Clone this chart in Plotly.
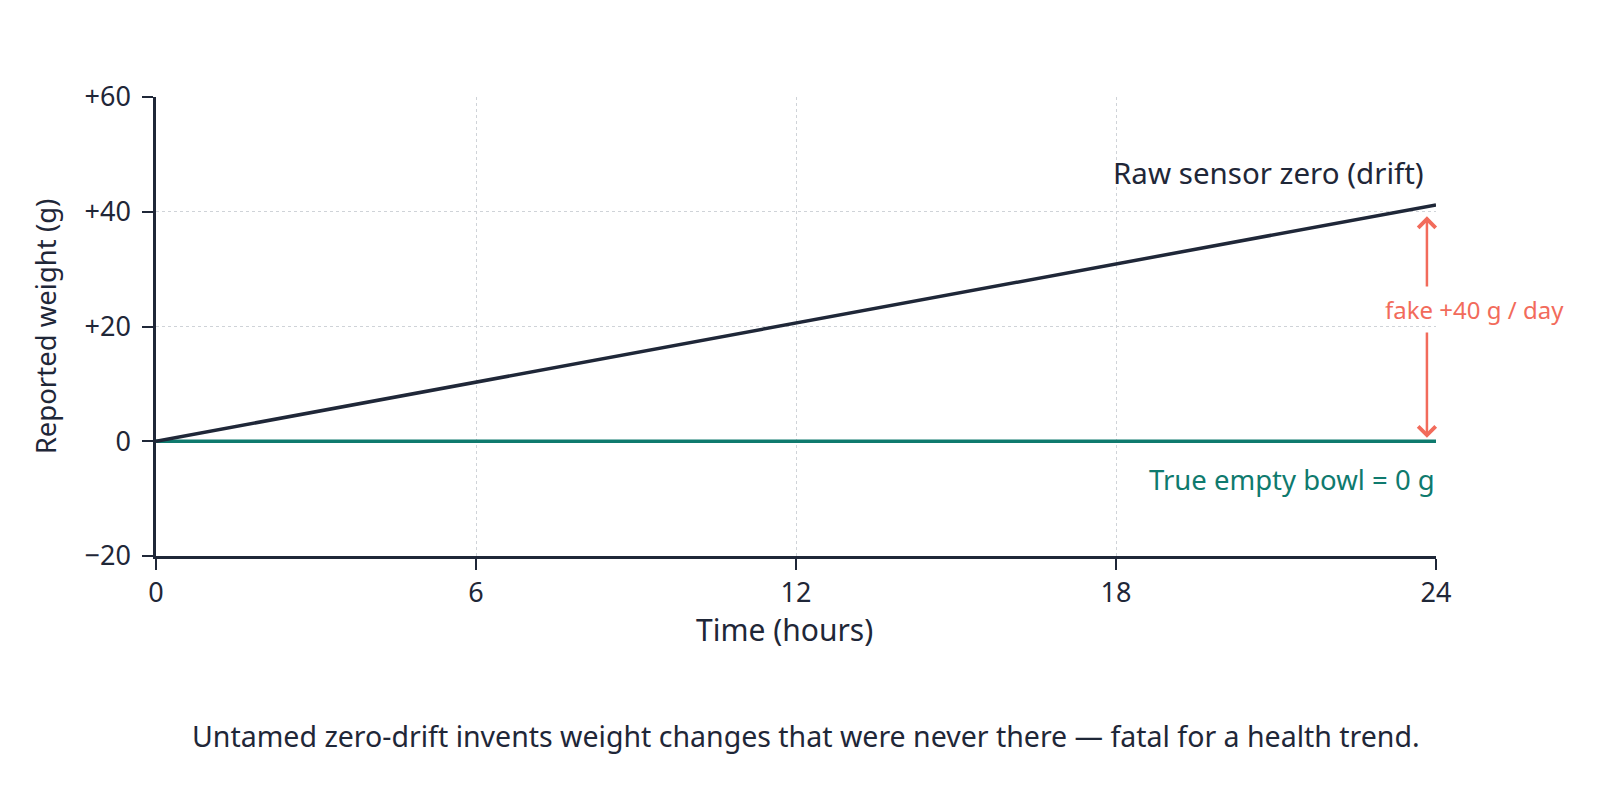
import plotly.graph_objects as go

# hours over one day
hours = [0, 24]
drift_g = [0, 41.2]      # raw sensor zero, creeping up
true_g = [0, 0]          # empty bowl, always zero

x_ticks = [0, 6, 12, 18, 24]
y_ticks = [-20, 0, 20, 40, 60]
y_tick_text = ["\u221220", "0", "+20", "+40", "+60"]

INK = "#1f2738"
TEAL = "#0f7a6e"
CORAL = "#f26b5b"
GRID = "#cfd3d8"
FONT = "Noto Sans"

ARROW_X = 23.83

fig = go.Figure()

fig.add_trace(go.Scatter(x=hours, y=true_g, mode="lines",
                         line=dict(color=TEAL, width=3.5),
                         name="True empty bowl", hoverinfo="skip"))
fig.add_trace(go.Scatter(x=hours, y=drift_g, mode="lines",
                         line=dict(color=INK, width=3.5),
                         name="Raw sensor zero", hoverinfo="skip"))

# labels next to the lines
fig.add_annotation(x=24, y=46.8, text="Raw sensor zero (drift)", showarrow=False,
                   xanchor="right", xshift=-10, font=dict(size=29.5, color=INK, family=FONT))
fig.add_annotation(x=24, y=-6.7, text="True empty bowl = 0 g", showarrow=False,
                   xanchor="right", xshift=1, font=dict(size=27.5, color=TEAL, family=FONT))

# the fake gain arrow, broken around its label
fig.add_annotation(x=ARROW_X, y=39.2, ax=ARROW_X, ay=26.7, xref="x", yref="y",
                   axref="x", ayref="y", text="", showarrow=True,
                   arrowhead=4, arrowsize=1.35, arrowwidth=2.5, arrowcolor=CORAL)
fig.add_annotation(x=ARROW_X, y=0.6, ax=ARROW_X, ay=19.2, xref="x", yref="y",
                   axref="x", ayref="y", text="", showarrow=True,
                   arrowhead=4, arrowsize=1.35, arrowwidth=2.5, arrowcolor=CORAL)
fig.add_annotation(x=ARROW_X, y=22.9, text="fake +40 g / day", showarrow=False,
                   xanchor="center", xshift=48, font=dict(size=24, color=CORAL, family=FONT))

# x title, sits a little left of the axis centre
fig.add_annotation(x=0.491, y=-0.161, xref="paper", yref="paper", yanchor="middle",
                   text="Time (hours)", showarrow=False,
                   font=dict(size=30, color=INK, family=FONT))

# caption
fig.add_annotation(x=0.5076, y=-0.393, xref="paper", yref="paper", yanchor="middle",
                   text="Untamed zero-drift invents weight changes that were never there \u2014 fatal for a health trend.",
                   showarrow=False, font=dict(size=28.5, color=INK, family=FONT))

fig.update_xaxes(range=[0, 24], tickvals=x_ticks, showgrid=False, zeroline=False,
                 showline=True, linecolor=INK, linewidth=2.5,
                 ticks="outside", ticklen=11, tickwidth=2, tickcolor=INK,
                 ticklabelstandoff=0,
                 tickfont=dict(size=27, color=INK, family=FONT),
                 minor=dict(tickvals=[6, 12, 18], showgrid=True, gridcolor=GRID,
                            griddash="dot", gridwidth=1.2, ticks=""))
fig.update_yaxes(range=[-20, 60], tickvals=y_ticks, ticktext=y_tick_text,
                 showgrid=True, gridcolor=GRID, griddash="dot", gridwidth=1.2,
                 zeroline=False, showline=True, linecolor=INK, linewidth=2.5,
                 ticks="outside", ticklen=11, tickwidth=2, tickcolor=INK,
                 ticklabelstandoff=6,
                 tickfont=dict(size=27, color=INK, family=FONT),
                 title=dict(text="Reported weight (g)", font=dict(size=27.5, color=INK, family=FONT), standoff=20))

# page has an 8px body margin, so the figure is sized to fit the window
fig.update_layout(
    width=1584, height=784,
    margin=dict(l=148, r=156, t=89, b=236),
    plot_bgcolor="white", paper_bgcolor="white",
    showlegend=False,
    font=dict(family=FONT, color=INK),
)

fig.write_html("out.html")
